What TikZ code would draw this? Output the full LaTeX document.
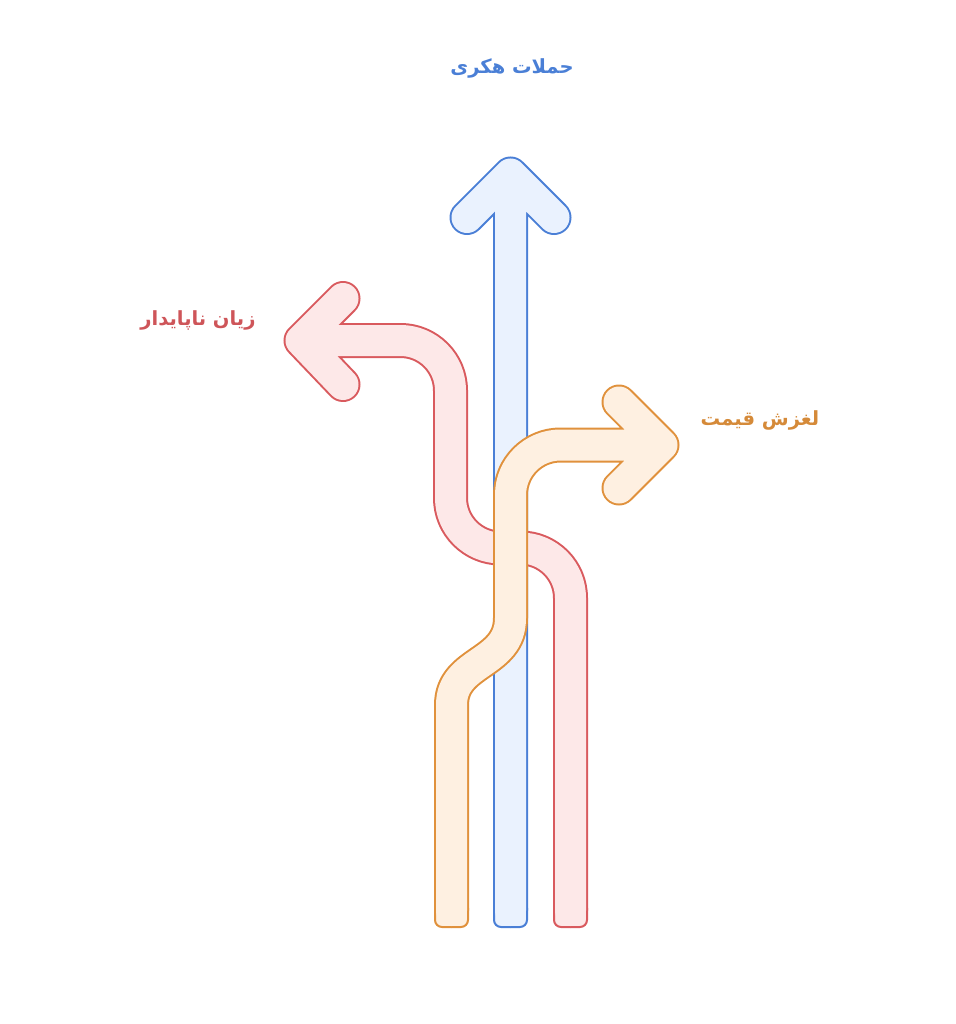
\documentclass[tikz,border=0pt]{standalone}
\usepackage{fontspec}
\newfontfamily\arabicfont[Script=Arabic]{DejaVu Sans}
\TeXXeTstate=1

\definecolor{hackLine}{HTML}{4A7FD6}
\definecolor{hackFill}{HTML}{EAF2FE}
\definecolor{lossLine}{HTML}{D95A5E}
\definecolor{lossFill}{HTML}{FDE8E8}
\definecolor{slipLine}{HTML}{E0913C}
\definecolor{slipFill}{HTML}{FEF0E1}

\tikzset{
    rim/.style={line width=35pt, line cap=round, line join=round},
    core/.style={line width=31pt, line cap=round, line join=round},
    foot/.style={rectangle, rounded corners=7pt, line width=2pt, minimum width=33pt, minimum height=26pt, inner sep=0pt},
    caption/.style={font=\arabicfont\bfseries\fontsize{19.5}{22}\selectfont, inner sep=2pt},
}

\begin{document}
\begin{tikzpicture}[x=1pt, y=-1pt]
    \useasboundingbox (0,0) rectangle (955,1024);

    % end points of the three arrows
    \coordinate (hackTail) at (510.5,910.5);
    \coordinate (hackTip) at (510.5,174);
    \coordinate (hackWingL) at (467,217.5);
    \coordinate (hackWingR) at (554,217.5);

    \coordinate (lossTail) at (570.5,910.5);
    \coordinate (lossTip) at (301,340.5);
    \coordinate (lossWingT) at (343,298.5);
    \coordinate (lossWingB) at (343,384.5);

    \coordinate (slipTail) at (451.5,910.5);
    \coordinate (slipTip) at (662,445);
    \coordinate (slipWingT) at (619,402);
    \coordinate (slipWingB) at (619,488);

    % blue arrow
    \draw[rim, hackLine] (hackTail) -- (hackTip) (hackWingL) -- (hackTip) -- (hackWingR);
    \node[foot, draw=hackLine, fill=hackFill] (hackFoot) at (510.5,914) {};
    \draw[core, hackFill] (hackTail) -- (hackTip) (hackWingL) -- (hackTip) -- (hackWingR);

    % red arrow
    \draw[rim, lossLine] (lossTail) [rounded corners=50pt] -- (570.5,548) -- (450.5,548) -- (450.5,340.5) -- (lossTip)
        [sharp corners] (lossWingT) -- (lossTip) -- (lossWingB);
    \node[foot, draw=lossLine, fill=lossFill] (lossFoot) at (570.5,914) {};
    \draw[core, lossFill] (lossTail) [rounded corners=50pt] -- (570.5,548) -- (450.5,548) -- (450.5,340.5) -- (lossTip)
        [sharp corners] (lossWingT) -- (lossTip) -- (lossWingB);

    % orange arrow
    \draw[rim, slipLine] (slipTail) -- (451.5,705) .. controls (451.5,660) and (510.5,665) .. (510.5,618)
        [rounded corners=50pt] -- (510.5,445) -- (slipTip)
        [sharp corners] (slipWingT) -- (slipTip) -- (slipWingB);
    \node[foot, draw=slipLine, fill=slipFill] (slipFoot) at (451.5,914) {};
    \draw[core, slipFill] (slipTail) -- (451.5,705) .. controls (451.5,660) and (510.5,665) .. (510.5,618)
        [rounded corners=50pt] -- (510.5,445) -- (slipTip)
        [sharp corners] (slipWingT) -- (slipTip) -- (slipWingB);

    % labels
    \node[caption, text=hackLine] (hackLabel) at (512,68) {\beginR حملات هکری\endR};
    \node[caption, text=lossLine!95!black] (lossLabel) at (198,320) {\beginR زیان ناپایدار\endR};
    \node[caption, text=slipLine!95!black] (slipLabel) at (760,420) {\beginR لغزش قیمت\endR};
\end{tikzpicture}
\end{document}
